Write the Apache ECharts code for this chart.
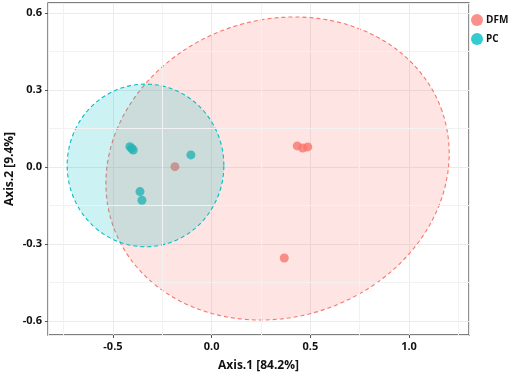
<!DOCTYPE html>
<html>
<head>
<meta charset="utf-8">
<script src="https://cdn.jsdelivr.net/npm/echarts@6/dist/echarts.min.js"></script>
<style>
  html, body { margin: 0; padding: 0; background: #fff; }
  #main { width: 510px; height: 375px; }
</style>
</head>
<body>
<div id="main"></div>
<script>
// group names and colours
var groups = ['DFM', 'PC'];
var groupColors = ['#F8766D', '#00BFC4'];

// PCoA coordinates [Axis.1, Axis.2]
var dfmPoints = [[-0.186, 0.001], [0.434, 0.082], [0.462, 0.074], [0.487, 0.078], [0.368, -0.355]];
var pcPoints = [[-0.414, 0.079], [-0.405, 0.072], [-0.397, 0.066], [-0.105, 0.047], [-0.363, -0.096], [-0.353, -0.130]];

// confidence ellipses: centre and two conjugate half-axes (data units)
var ellipseCenter = [[0.334, -0.006], [-0.335, 0.006]];
var ellipseAxisA = [[0.834, 0.223], [0.397, 0]];
var ellipseAxisB = [[-0.247, 0.547], [0, 0.317]];

// minor grid lines
var xMinor = [-0.75, -0.25, 0.25, 0.75, 1.25];
var yMinor = [-0.45, -0.15, 0.15, 0.45];

var myChart = echarts.init(document.getElementById('main'));

var font = '"Open Sans", "DejaVu Sans", sans-serif';

function ellipseItem(params, api) {
    var i = params.dataIndex;
    var c = ellipseCenter[i], a = ellipseAxisA[i], b = ellipseAxisB[i];
    var pts = [];
    for (var k = 0; k < 120; k++) {
        var t = 2 * Math.PI * k / 120;
        pts.push(api.coord([
            c[0] + a[0] * Math.cos(t) + b[0] * Math.sin(t),
            c[1] + a[1] * Math.cos(t) + b[1] * Math.sin(t)
        ]));
    }
    var col = echarts.color.modifyAlpha(groupColors[i], 0.2);
    return {
        type: 'polygon',
        shape: { points: pts },
        style: {
            fill: col,
            stroke: groupColors[i],
            lineWidth: 1.1,
            lineDash: [4, 3]
        }
    };
}

var minorLines = xMinor.map(function (v) { return { xAxis: v }; })
    .concat(yMinor.map(function (v) { return { yAxis: v }; }));

var option = {
    animation: false,
    textStyle: { fontFamily: font },
    grid: {
        left: 48,
        right: 41,
        top: 3,
        bottom: 40,
        outerBoundsMode: 'none',
        containLabel: false,
        show: true,
        borderColor: '#555',
        borderWidth: 1.3,
        backgroundColor: '#fff'
    },
    legend: {
        data: groups,
        orient: 'vertical',
        left: 471,
        top: 14,
        padding: 0,
        icon: 'circle',
        itemWidth: 12,
        itemHeight: 12,
        itemGap: 7,
        textStyle: { fontFamily: font, fontWeight: 'bold', fontSize: 10, color: '#111', padding: [0, 0, 0, -2] }
    },
    xAxis: {
        type: 'value',
        min: -0.829,
        max: 1.304,
        name: 'Axis.1 [84.2%]',
        nameLocation: 'middle',
        nameGap: 25,
        nameTextStyle: { fontFamily: font, fontWeight: 'bold', fontSize: 12, color: '#111' },
        axisLine: { show: false, onZero: false },
        axisTick: { show: true, inside: false, length: 3, lineStyle: { color: '#555' } },
        axisLabel: {
            showMinLabel: false,
            showMaxLabel: false,
            fontFamily: font, fontWeight: 'bold', fontSize: 11, color: '#111', margin: 6,
            formatter: function (v) { return v.toFixed(1); }
        },
        splitLine: { show: true, lineStyle: { color: '#ebebeb', width: 1 } }
    },
    yAxis: {
        type: 'value',
        min: -0.655,
        max: 0.639,
        name: 'Axis.2 [9.4%]',
        nameLocation: 'middle',
        nameGap: 32,
        nameMoveOverlap: false,
        nameTextStyle: { fontFamily: font, fontWeight: 'bold', fontSize: 12, color: '#111' },
        axisLine: { show: false, onZero: false },
        axisTick: { show: true, inside: false, length: 3, lineStyle: { color: '#555' } },
        axisLabel: {
            showMinLabel: false,
            showMaxLabel: false,
            fontFamily: font, fontWeight: 'bold', fontSize: 11, color: '#111', margin: 6,
            formatter: function (v) { return v.toFixed(1); }
        },
        splitLine: { show: true, lineStyle: { color: '#ebebeb', width: 1 } }
    },
    series: [
        {
            type: 'scatter',
            data: [],
            silent: true,
            markLine: {
                silent: true,
                symbol: 'none',
                label: { show: false },
                lineStyle: { color: '#f2f2f2', type: 'solid', width: 1 },
                data: minorLines
            },
            z: 1
        },
        {
            name: groups[0],
            type: 'scatter',
            data: dfmPoints,
            symbolSize: 9,
            itemStyle: { color: groupColors[0] },
            z: 2
        },
        {
            name: groups[1],
            type: 'scatter',
            data: pcPoints,
            symbolSize: 9,
            itemStyle: { color: groupColors[1] },
            z: 2
        },
        {
            type: 'custom',
            renderItem: ellipseItem,
            data: groups.map(function (g, i) { return [i]; }),
            silent: true,
            z: 3
        }
    ]
};
myChart.setOption(option);
</script>
</body>
</html>
